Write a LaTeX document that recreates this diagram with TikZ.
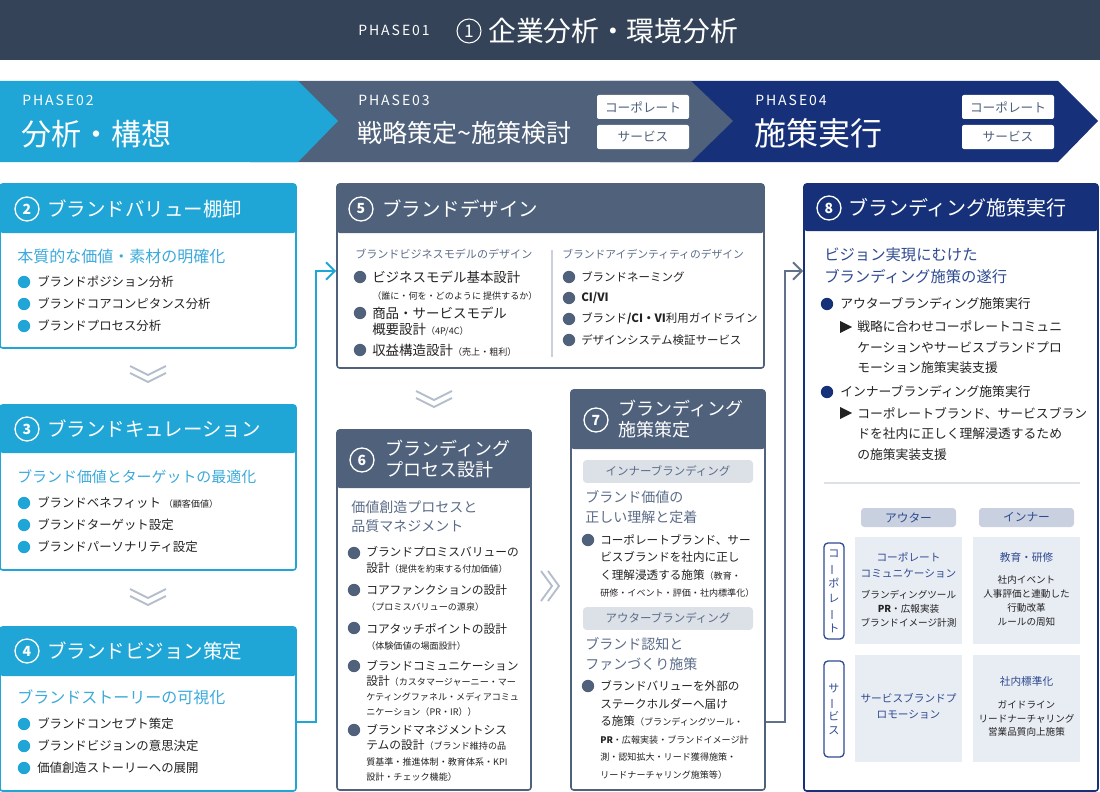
\documentclass[tikz,border=0pt]{standalone}
\usepackage{fontspec}
\usepackage{graphicx}
\setmainfont{Noto Sans CJK JP}
\newfontfamily\phasefont[LetterSpace=14]{Noto Sans CJK JP}
\usetikzlibrary{arrows.meta,fit,positioning}

\definecolor{bannerc}{HTML}{344358}
\definecolor{bluec}{HTML}{1FA6D6}
\definecolor{slatec}{HTML}{4F617B}
\definecolor{navyc}{HTML}{16317A}
\definecolor{lblue}{HTML}{3BA9DA}
\definecolor{lslate}{HTML}{5B6C88}
\definecolor{lnavy}{HTML}{2E4A90}
\definecolor{pillc}{HTML}{DCE0E7}
\definecolor{pilltwo}{HTML}{C9D0DF}
\definecolor{cellc}{HTML}{E8ECF3}
\definecolor{chevc}{HTML}{B4BDCB}
\definecolor{inkc}{HTML}{222222}

\newcommand{\smtxt}[1]{{\fontsize{6.8}{8}\selectfont #1}}
\newcommand{\vbar}{\rotatebox[origin=c]{90}{ー}}

\tikzset{
	hd/.style={text=white,anchor=west,inner sep=0,font=\fontsize{14.6}{17}\selectfont},
	hdtwo/.style={hd,align=left,font=\fontsize{13.5}{15.8}\selectfont},
	phasetxt/.style={hd,font=\phasefont\fontsize{10.5}{12}\selectfont},
	num/.style={circle,draw=white,line width=1pt,minimum size=18pt,inner sep=0,text=white,font=\fontsize{10.5}{10.5}\selectfont\bfseries},
	sub/.style={anchor=west,inner sep=0,align=left,font=\fontsize{12}{16}\selectfont},
	itm/.style={anchor=west,inner sep=0,align=left,text=inkc,font=\fontsize{9.3}{13}\selectfont},
	bul/.style={circle,inner sep=0,minimum size=9.3pt,fill=#1},
	bx/.style={draw=#1,line width=1.2pt,rounded corners=2pt,inner sep=0},
	chev/.style={draw=chevc,line width=1.4pt},
	tag/.style={fill=white,rounded corners=1.5pt,minimum width=69pt,minimum height=18pt,inner sep=0,text=slatec,font=\fontsize{9.5}{10}\selectfont},
	pill/.style={fill=pillc,rounded corners=2.5pt,inner sep=0,text=lslate,minimum width=127.5pt,minimum height=17pt,font=\fontsize{8.6}{10}\selectfont},
	cell/.style={fill=cellc,inner sep=0,minimum width=80.25pt,minimum height=80.25pt},
	ctitle/.style={align=center,inner sep=0,text=lnavy,font=\fontsize{8}{12}\selectfont},
	cbody/.style={align=center,inner sep=0,text=inkc,font=\fontsize{7.2}{10.5}\selectfont},
	link/.style={draw=#1,line width=1.5pt,-{Straight Barb[length=6.5pt,width=13pt]}},
}

\begin{document}
\begin{tikzpicture}[x=0.75pt,y=-0.75pt]
	\useasboundingbox (0,0) rectangle (1100,792);
	% phase 1
	\fill[bannerc](0,0) rectangle (1100,60);
	\node[phasetxt] (ph1) at (358,30) {PHASE01};
	\node[num,line width=0.8pt,font=\fontsize{13}{13}\selectfont] (c1) at (469,31) {1};
	\node[hd,font=\fontsize{20.8}{24}\selectfont] (t1) at (488,31) {企業分析・環境分析};
	% phases 2-4
	\fill[navyc](600,81)--(1058,81)--(1098,121)--(1058,162)--(600,162)--cycle;
	\fill[slatec](250,81)--(691,81)--(733,121)--(691,162)--(250,162)--cycle;
	\fill[bluec](0,81)--(298,81)--(338,121)--(298,162)--(0,162)--cycle;
	\node[phasetxt] (ph2) at (22,100) {PHASE02};
	\node[hd,font=\fontsize{22.5}{26}\selectfont] (t2) at (21,134) {分析・構想};
	\node[phasetxt] (ph3) at (358,100) {PHASE03};
	\node[hd,font=\fontsize{18.8}{22}\selectfont] (t3) at (357,133) {戦略策定\textasciitilde 施策検討};
	\node[tag] (tg3a) at (643,107) {コーポレート};
	\node[tag] (tg3b) at (643,137) {サービス};
	\node[phasetxt] (ph4) at (755,100) {PHASE04};
	\node[hd,font=\fontsize{24}{28}\selectfont] (t4) at (754,133) {施策実行};
	\node[tag] (tg4a) at (1008,107) {コーポレート};
	\node[tag] (tg4b) at (1008,137) {サービス};

	% column 1
	\node[bx=bluec,fit={(0,184) (296,348)}] (box2) {};
	\fill[bluec,rounded corners=2pt](0,184) rectangle (296,233);
	\node[num] (n2) at (27,209) {2};
	\node[hd] (h2) at (47,209) {ブランドバリュー棚卸};
	\node[sub,text=lblue] (s2) at (17,256) {本質的な価値・素材の明確化};
	\foreach \t [count=\i] in {ブランドポジション分析,ブランドコアコンピタンス分析,ブランドプロセス分析}{
		\node[bul=bluec] (d2\i) at (24,260+22*\i) {};
		\node[itm] (i2\i) at (37,260+22*\i) {\t};
	}
	\draw[chev](130,366)--(148,375)--(166,366) (130,373)--(148,382)--(166,373);

	\node[bx=bluec,fit={(0,405) (296,570)}] (box3) {};
	\fill[bluec,rounded corners=2pt](0,405) rectangle (296,453);
	\node[num] (n3) at (27,429) {3};
	\node[hd] (h3) at (47,429) {ブランドキュレーション};
	\node[sub,text=lblue,font=\fontsize{11.2}{15}\selectfont] (s3) at (17,477) {ブランド価値とターゲットの最適化};
	\foreach \t [count=\i] in {ブランドベネフィット \smtxt{（顧客価値）},ブランドターゲット設定,ブランドパーソナリティ設定}{
		\node[bul=bluec] (d3\i) at (24,481+22*\i) {};
		\node[itm] (i3\i) at (37,481+22*\i) {\t};
	}
	\draw[chev](130,589)--(148,598)--(166,589) (130,596)--(148,605)--(166,596);

	\node[bx=bluec,fit={(0,627) (296,791)}] (box4) {};
	\fill[bluec,rounded corners=2pt](0,627) rectangle (296,676);
	\node[num] (n4) at (27,651) {4};
	\node[hd] (h4) at (47,651) {ブランドビジョン策定};
	\node[sub,text=lblue] (s4) at (17,697) {ブランドストーリーの可視化};
	\foreach \t [count=\i] in {ブランドコンセプト策定,ブランドビジョンの意思決定,価値創造ストーリーへの展開}{
		\node[bul=bluec] (d4\i) at (24,702+22*\i) {};
		\node[itm] (i4\i) at (37,702+22*\i) {\t};
	}

	% column 2
	\node[bx=slatec,fit={(337,184) (764,368)}] (box5) {};
	\fill[slatec,rounded corners=2pt](337,184) rectangle (764,233);
	\node[num] (n5) at (361,209) {5};
	\node[hd] (h5) at (382,209) {ブランドデザイン};
	\draw[chevc!70,line width=0.8pt](552,250)--(552,357);
	\node[itm,text=lslate,font=\fontsize{8.3}{10}\selectfont] (s5a) at (355,254) {ブランドビジネスモデルのデザイン};
	\node[itm,text=lslate,font=\fontsize{8.1}{10}\selectfont] (s5b) at (562,254) {ブランドアイデンティティのデザイン};
	\node[bul=slatec] (d5a) at (360,277) {};
	\node[itm,font=\fontsize{10.1}{12.5}\selectfont] (i5a) at (372,285.5) {ビジネスモデル基本設計\\\smtxt{（誰に・何を・どのように 提供するか）}};
	\node[bul=slatec] (d5b) at (360,313) {};
	\node[itm,font=\fontsize{10.1}{12.5}\selectfont] (i5b) at (372,321.5) {商品・サービスモデル\\概要設計\smtxt{（4P/4C）}};
	\node[bul=slatec] (d5c) at (360,350) {};
	\node[itm,font=\fontsize{10.1}{12.5}\selectfont] (i5c) at (372,350) {収益構造設計\smtxt{（売上・粗利）}};
	\foreach \t [count=\i] in {ブランドネーミング,\textbf{CI/VI},ブランド\textbf{/CI・VI}利用ガイドライン,デザインシステム検証サービス}{
		\node[bul=slatec] (d5r\i) at (569,256+21*\i) {};
		\node[itm,font=\fontsize{8.6}{12}\selectfont] (i5r\i) at (581,256+21*\i) {\t};
	}
	\draw[chev](416,391)--(434,400)--(452,391) (416,398)--(434,407)--(452,398);

	\node[bx=slatec,fit={(337,430) (531,790)}] (box6) {};
	\fill[slatec,rounded corners=2pt](337,430) rectangle (531,488);
	\node[num] (n6) at (362,460) {6};
	\node[hdtwo] (h6) at (385,459) {ブランディング\\プロセス設計};
	\node[sub,text=lslate,font=\fontsize{10.5}{14.3}\selectfont] (s6) at (351,516.5) {価値創造プロセスと\\品質マネジメント};
	\foreach \y in {553,590,628,666,730}
		\node[bul=slatec] (d6\y) at (354,\y) {};
	\node[itm,font=\fontsize{8.8}{12}\selectfont] (i61) at (366,560) {ブランドプロミスバリューの\\設計\smtxt{（提供を約束する付加価値）}};
	\node[itm,font=\fontsize{8.8}{12}\selectfont] (i62) at (366,598.5) {コアファンクションの設計\\\smtxt{（プロミスバリューの源泉）}};
	\node[itm,font=\fontsize{8.8}{12}\selectfont] (i63) at (366,636.5) {コアタッチポイントの設計\\\smtxt{（体験価値の場面設計）}};
	\node[itm,font=\fontsize{8.8}{11.25}\selectfont] (i64) at (366,688) {ブランドコミュニケーション\\設計\smtxt{（カスタマージャーニー・マー}\\\smtxt{ケティングファネル・メディアコミュ}\\\smtxt{ニケーション（PR・IR））}};
	\node[itm,font=\fontsize{8.8}{11.4}\selectfont] (i65) at (366,753) {ブランドマネジメントシス\\テムの設計\smtxt{（ブランド維持の品}\\\smtxt{質基準・推進体制・教育体系・KPI}\\\smtxt{設計・チェック機能）}};
	\draw[chev](541,571)--(552,586)--(541,601) (548,571)--(559,586)--(548,601);

	\node[bx=slatec,fit={(571,390) (765,790)}] (box7) {};
	\fill[slatec,rounded corners=2pt](571,390) rectangle (765,449);
	\node[num] (n7) at (596,420) {7};
	\node[hdtwo] (h7) at (618,419) {ブランディング\\施策策定};
	\node[pill] (p71) at (668,471.5) {インナーブランディング};
	\node[sub,text=lslate,font=\fontsize{10.5}{15}\selectfont] (s71) at (585,507) {ブランド価値の\\正しい理解と定着};
	\node[bul=slatec] (d71) at (588,540) {};
	\node[itm,font=\fontsize{8.7}{13}\selectfont] (i71) at (600,566) {コーポレートブランド、サー\\ビスブランドを社内に正し\\く理解浸透する施策\smtxt{（教育・}\\\smtxt{研修・イベント・評価・社内標準化）}};
	\node[pill] (p72) at (668,618.5) {アウターブランディング};
	\node[sub,text=lslate,font=\fontsize{10.5}{15}\selectfont] (s72) at (585,654.5) {ブランド認知と\\ファンづくり施策};
	\node[bul=slatec] (d72) at (588,686) {};
	\node[itm,font=\fontsize{8.7}{13.2}\selectfont] (i72) at (600,730) {ブランドバリューを外部の\\ステークホルダーへ届け\\る施策\smtxt{（ブランディングツール・}\\\smtxt{\textbf{PR}・広報実装・ブランドイメージ計}\\\smtxt{測・認知拡大・リード獲得施策・}\\\smtxt{リードナーチャリング施策等）}};

	% column 3
	\node[bx=navyc,fit={(804,184) (1098,791)}] (box8) {};
	\fill[navyc,rounded corners=2pt](804,184) rectangle (1098,231);
	\node[num] (n8) at (829,208) {8};
	\node[hd,font=\fontsize{15}{17}\selectfont] (h8) at (848,208) {ブランディング施策実行};
	\node[sub,text=lnavy,font=\fontsize{11.5}{16.5}\selectfont] (s8) at (824,266) {ビジョン実現にむけた\\ブランディング施策の遂行};
	\node[bul=navyc] (d81) at (827,304) {};
	\node[itm,font=\fontsize{9.6}{12}\selectfont] (i81) at (840,304) {アウターブランディング施策実行};
	\fill[inkc](840,321)--(852,327)--(840,333)--cycle;
	\node[itm,font=\fontsize{9.6}{15.4}\selectfont] (i82) at (857,347.5) {戦略に合わせコーポレートコミュニ\\ケーションやサービスブランドプロ\\モーション施策実装支援};
	\node[bul=navyc] (d82) at (827,392) {};
	\node[itm,font=\fontsize{9.6}{12}\selectfont] (i83) at (840,392) {インナーブランディング施策実行};
	\fill[inkc](840,407)--(852,413)--(840,419)--cycle;
	\node[itm,font=\fontsize{9.6}{15.4}\selectfont] (i84) at (857,434) {コーポレートブランド、サービスブラン\\ドを社内に正しく理解浸透するため\\の施策実装支援};
	\draw[pillc,line width=1.2pt](824,483)--(1080,483);
	% matrix
	\node[pill,fill=pilltwo,text=lnavy,minimum width=71.25pt,minimum height=14.25pt,font=\fontsize{8.8}{10}\selectfont] (m1) at (908.5,517.5) {アウター};
	\node[pill,fill=pilltwo,text=lnavy,minimum width=71.25pt,minimum height=14.25pt,font=\fontsize{8.8}{10}\selectfont] (m2) at (1026.5,517.5) {インナー};
	\node[cell] (cco) at (908.5,590.5) {};
	\node[cell] (cci) at (1026.5,590.5) {};
	\node[cell] (cso) at (908.5,708.5) {};
	\node[cell] (csi) at (1026.5,708.5) {};
	\node[draw=lnavy,line width=1pt,rounded corners=3pt,minimum width=15pt,minimum height=72pt,inner sep=0] (rc) at (834,591) {};
	\node[align=center,inner sep=0,text=lnavy,font=\fontsize{8.3}{11.25}\selectfont] (rct) at (834,591) {コ\\\vbar\\ポ\\レ\\\vbar\\ト};
	\node[draw=lnavy,line width=1pt,rounded corners=3pt,minimum width=15pt,minimum height=72pt,inner sep=0] (rs) at (834,709) {};
	\node[align=center,inner sep=0,text=lnavy,font=\fontsize{8.3}{10.5}\selectfont] (rst) at (834,709) {サ\\\vbar\\ビ\\ス};
	\node[ctitle] (cco1) at (908.5,565) {コーポレート\\コミュニケーション};
	\node[cbody] (cco2) at (908.5,609) {ブランディングツール\\\textbf{PR}・広報実装\\ブランドイメージ計測};
	\node[ctitle] (cci1) at (1026.5,557) {教育・研修};
	\node[cbody] (cci2) at (1026.5,601) {社内イベント\\人事評価と連動した\\行動改革\\ルールの周知};
	\node[ctitle] (cso1) at (908.5,706) {サービスブランドプ\\ロモーション};
	\node[ctitle] (csi1) at (1026.5,681) {社内標準化};
	\node[cbody,font=\fontsize{7.2}{10}\selectfont] (csi2) at (1026.5,718.5) {ガイドライン\\リードナーチャリング\\営業品質向上施策};

	% connectors
	\draw[link=bluec](box4.east) ++(0,13) -| (316,271) -- (box5.west |- 316,271);
	\draw[link=slatec!90](box7.east) ++(0,132) -| (785,271) -- (box8.west |- 785,271);
\end{tikzpicture}
\end{document}
